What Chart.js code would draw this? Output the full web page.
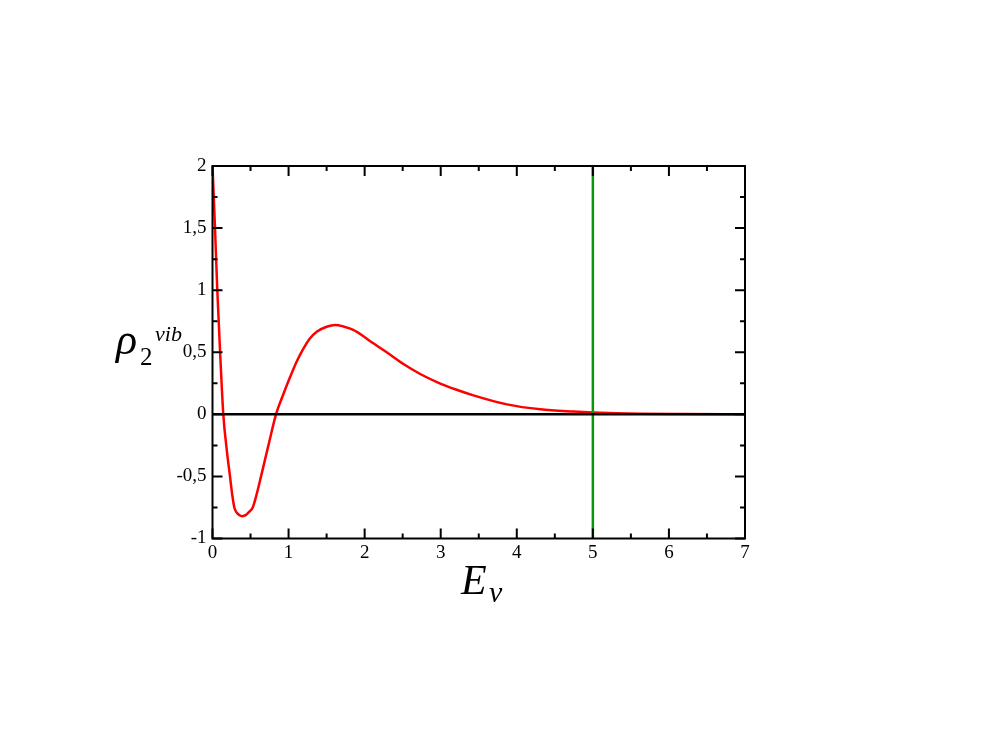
<!DOCTYPE html>
<html>
<head>
<meta charset="utf-8">
<script src="https://cdn.jsdelivr.net/npm/chart.js@4/dist/chart.umd.min.js"></script>
<style>
  html, body { margin: 0; padding: 0; background: #fff; }
  #wrap { position: relative; width: 981px; height: 736px; }
  .lbl { position: absolute; font-family: "Liberation Serif", "DejaVu Serif", serif; font-style: italic; color: #000; white-space: nowrap; line-height: 1; }
</style>
</head>
<body>
<div id="wrap">
  <canvas id="rhoChart" width="981" height="736"></canvas>
  <!-- titoli degli assi come testo HTML (servono pedici e apici) -->
  <span class="lbl" style="left:116px; top:318px; font-size:44px;">&rho;</span>
  <span class="lbl" style="left:140px; top:344px; font-size:25px; font-style:normal;">2</span>
  <span class="lbl" style="left:155px; top:323px; font-size:22px;">vib</span>
  <span class="lbl" style="left:461px; top:559px; font-size:42px;">E</span>
  <span class="lbl" style="left:489px; top:577px; font-size:30px;">v</span>
</div>
<script>
// dati
const energy = [0, 0.033, 0.063, 0.1, 0.142, 0.19, 0.23, 0.26, 0.287, 0.316, 0.349, 0.392, 0.441, 0.474, 0.529, 0.58, 0.638, 0.735, 0.835, 0.93, 1.02, 1.11, 1.195, 1.28, 1.37, 1.5, 1.61, 1.72, 1.85, 1.97, 2.07, 2.29, 2.51, 2.73, 2.95, 3.2, 3.43, 3.87, 4.31, 4.75, 5.0, 5.62, 6.2, 7];
const rho = [2.0, 1.5, 1.0, 0.5, 0.0, -0.3, -0.5, -0.65, -0.75, -0.79, -0.81, -0.82, -0.81, -0.79, -0.75, -0.645, -0.5, -0.25, 0.0, 0.16, 0.30, 0.43, 0.53, 0.61, 0.665, 0.705, 0.72, 0.708, 0.68, 0.635, 0.59, 0.50, 0.405, 0.325, 0.26, 0.2, 0.153, 0.08, 0.04, 0.022, 0.015, 0.005, 0.002, 0.0];
const zeroX = [0, 7];
const zeroY = [0, 0];
const cutoffX = [5, 5];
const cutoffY = [-1, 2];
const xTicks = [0, 1, 2, 3, 4, 5, 6, 7];
const yTicks = [-1, -0.5, 0, 0.5, 1, 1.5, 2];

function toPoints(xs, ys) {
    return xs.map(function (x, i) { return { x: x, y: ys[i] }; });
}

// cornice e tacche verso l'interno
const framePlugin = {
    id: 'frame',
    afterDatasetsDraw: function (chart) {
        const ctx = chart.ctx;
        const a = chart.chartArea;
        const xs = chart.scales.x;
        const ys = chart.scales.y;
        ctx.save();
        ctx.strokeStyle = '#000';
        ctx.lineWidth = 2;
        ctx.strokeRect(a.left, a.top, a.right - a.left, a.bottom - a.top);
        ctx.beginPath();
        for (let v = 0; v <= 7.001; v += 0.5) {
            const px = xs.getPixelForValue(v);
            const len = Math.abs(v - Math.round(v)) < 0.01 ? 10 : 5;
            ctx.moveTo(px, a.bottom); ctx.lineTo(px, a.bottom - len);
            ctx.moveTo(px, a.top); ctx.lineTo(px, a.top + len);
        }
        for (let v = -1; v <= 2.001; v += 0.25) {
            const py = ys.getPixelForValue(v);
            const len = Math.abs(v * 2 - Math.round(v * 2)) < 0.01 ? 10 : 5;
            ctx.moveTo(a.left, py); ctx.lineTo(a.left + len, py);
            ctx.moveTo(a.right, py); ctx.lineTo(a.right - len, py);
        }
        ctx.stroke();
        ctx.restore();
    }
};

const tickFont = { family: '"Liberation Serif", "DejaVu Serif", serif', size: 19 };

new Chart(document.getElementById('rhoChart'), {
    type: 'scatter',
    data: {
        datasets: [
            {
                data: toPoints(zeroX, zeroY),
                showLine: true, borderColor: '#000', borderWidth: 2.5, pointRadius: 0
            },
            {
                data: toPoints(cutoffX, cutoffY),
                showLine: true, borderColor: '#0a960a', borderWidth: 2.5, pointRadius: 0
            },
            {
                data: toPoints(energy, rho),
                showLine: true, borderColor: '#ff0000', borderWidth: 2.5, pointRadius: 0,
                cubicInterpolationMode: 'monotone'
            }
        ]
    },
    options: {
        responsive: false,
        animation: false,
        layout: { padding: { left: 0, top: 166, right: 236, bottom: 0 } },
        plugins: { legend: { display: false }, tooltip: { enabled: false } },
        scales: {
            x: {
                type: 'linear', min: 0, max: 7,
                grid: { display: false, drawTicks: false },
                border: { display: false },
                afterBuildTicks: function (s) { s.ticks = xTicks.map(function (v) { return { value: v }; }); },
                afterFit: function (s) { s.height = 197.5; },
                ticks: { color: '#000', font: tickFont, padding: 3, maxRotation: 0 }
            },
            y: {
                type: 'linear', min: -1, max: 2,
                grid: { display: false, drawTicks: false },
                border: { display: false },
                afterBuildTicks: function (s) { s.ticks = yTicks.map(function (v) { return { value: v }; }); },
                afterFit: function (s) { s.width = 212.5; },
                ticks: {
                    color: '#000', font: tickFont, padding: 6,
                    callback: function (v) { return String(v).replace('.', ','); }
                }
            }
        }
    },
    plugins: [framePlugin]
});
</script>
</body>
</html>
